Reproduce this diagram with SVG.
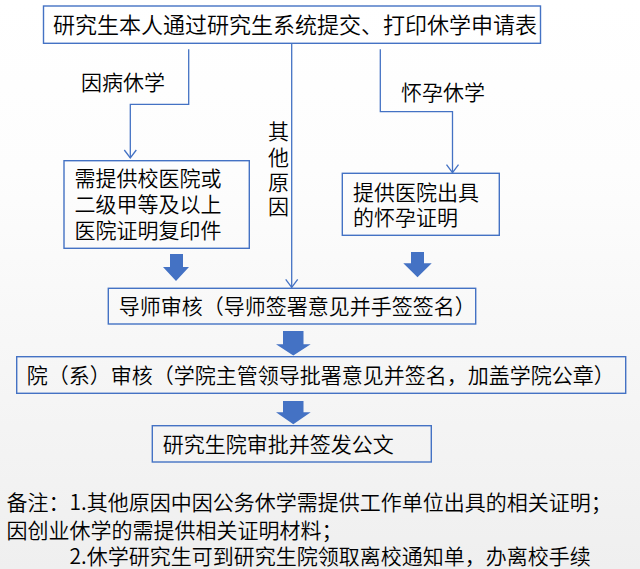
<svg xmlns="http://www.w3.org/2000/svg" width="640" height="569" viewBox="0 0 640 569">
<defs>
<linearGradient id="bg" x1="0" y1="0" x2="0" y2="1">
<stop offset="0" stop-color="#ffffff"/>
<stop offset="0.3" stop-color="#fdfdfd"/>
<stop offset="1" stop-color="#efefef"/>
</linearGradient>
<marker id="open" markerUnits="userSpaceOnUse" markerWidth="12" markerHeight="14" refX="9" refY="6" orient="auto" overflow="visible">
<path d="M1,0 L9,6 L1,12" fill="none" stroke="#4472c4" stroke-width="1.3"/>
</marker>
</defs>
<style>
.box{fill:none;stroke:#4472c4;stroke-width:1.4}
.t{font-family:"Noto Sans CJK SC","Noto Sans",sans-serif;font-size:21px;font-weight:350;fill:#000}
.big{font-size:22px}
.conn{fill:none;stroke:#4472c4;stroke-width:1.3}
.barrow{fill:#4472c4}
</style>
<rect width="640" height="569" fill="url(#bg)"/>

<g id="connectors">
<polyline class="conn" points="188.7,49.3 188.7,104.3 130.3,104.3 130.3,158" marker-end="url(#open)"/>
<polyline class="conn" points="291.7,43.3 291.7,287.3" marker-end="url(#open)"/>
<polyline class="conn" points="380.3,49.3 380.3,111.7 452.5,111.7 452.5,172.7" marker-end="url(#open)"/>
<text class="t" x="81" y="90">因病休学</text>
<text class="t" x="401" y="99.5">怀孕休学</text>
<text class="t" text-anchor="middle"><tspan x="278.5" y="139">其</tspan><tspan x="278.5" y="164.7">他</tspan><tspan x="278.5" y="189.7">原</tspan><tspan x="278.5" y="214">因</tspan></text>
<path class="barrow" d="M170,254 H183 V267 H189 L176,281 L163,267 H170 Z"/>
<path class="barrow" d="M411,252 H424 V263.3 H431.7 L417.5,277.3 L403.3,263.3 H411 Z"/>
<path class="barrow" d="M283,331 H303.5 V344.3 H310.7 L293.3,355.5 L276,344.3 H283 Z"/>
<path class="barrow" d="M283,401 H303.5 V412.3 H310.7 L293.3,424.3 L276,412.3 H283 Z"/>
</g>

<g id="node-submit">
<rect class="box" x="43.5" y="6" width="497" height="37.3"/>
<text class="t big" x="53" y="33.4">研究生本人通过研究生系统提交、打印休学申请表</text>
</g>

<g id="node-illness">
<rect class="box" x="64" y="160.7" width="185.3" height="87.6"/>
<text class="t"><tspan x="74.5" y="186">需提供校医院或</tspan><tspan x="74.5" y="212">二级甲等及以上</tspan><tspan x="74.5" y="237.5">医院证明复印件</tspan></text>
</g>

<g id="node-pregnancy">
<rect class="box" x="342.3" y="173.3" width="157" height="62"/>
<text class="t"><tspan x="353" y="199.7">提供医院出具</tspan><tspan x="353" y="225.3">的怀孕证明</tspan></text>
</g>

<g id="node-advisor">
<rect class="box" x="108.3" y="288.3" width="367.4" height="35.7"/>
<text class="t" x="118.8" y="314">导师审核（导师签署意见并手签签名）</text>
</g>

<g id="node-dept">
<rect class="box" x="16.7" y="356.7" width="609" height="36.6"/>
<text class="t" x="26.8" y="383">院（系）审核（学院主管领导批署意见并签名，加盖学院公章）</text>
</g>

<g id="node-grad">
<rect class="box" x="152.3" y="425.7" width="279" height="36.3"/>
<text class="t" x="162.8" y="452">研究生院审批并签发公文</text>
</g>

<g id="notes">
<text class="t"><tspan x="6.5" y="510">备注：1.其他原因中因公务休学需提供工作单位出具的相关证明；</tspan><tspan x="6.5" y="537.5">因创业休学的需提供相关证明材料；</tspan><tspan x="69.5" y="564">2.休学研究生可到研究生院领取离校通知单，办离校手续</tspan></text>
</g>
</svg>
